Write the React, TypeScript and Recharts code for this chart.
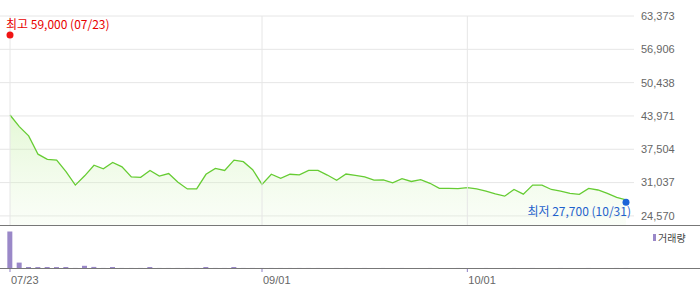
import React from 'react';
import { ComposedChart, Area, Bar, XAxis, YAxis, CartesianGrid, ReferenceLine, ReferenceDot } from 'recharts';

const dates = [
  '07/23', '07/24', '07/25', '07/26', '07/27', '07/30', '07/31',
  '08/01', '08/02', '08/03', '08/06', '08/07', '08/08', '08/09', '08/10', '08/13', '08/14',
  '08/16', '08/17', '08/20', '08/21', '08/22', '08/23', '08/24', '08/27', '08/28', '08/29',
  '09/01', '09/02', '09/03', '09/04', '09/07', '09/08', '09/09', '09/10', '09/11', '09/14', '09/15',
  '09/16', '09/17', '09/18', '09/21', '09/22', '09/23', '09/24', '09/25', '09/28', '09/29', '09/30',
  '10/01', '10/05', '10/06', '10/07', '10/08', '10/12', '10/13', '10/14', '10/15', '10/16', '10/19',
  '10/20', '10/21', '10/22', '10/23', '10/26', '10/27', '10/31',
];

const closes = [
  44150, 41900, 40100, 36550, 35550, 35400, 33150, 30550, 32350, 34400,
  33700, 34950, 34100, 32150, 32050, 33400, 32300, 32800, 31100, 29800,
  29800, 32650, 33800, 33400, 35400, 35100, 33550, 30700, 32650, 31850,
  32650, 32550, 33400, 33400, 32500, 31500, 32700, 32450, 32150, 31500,
  31550, 31000, 31800, 31250, 31600, 30900, 29900, 29900, 29850, 30050,
  29800, 29400, 28850, 28400, 29700, 28800, 30550, 30550, 29700, 29400,
  28950, 28750, 29900, 29600, 28950, 28150, 27700,
];

const volumes = [
  3650000, 540000, 100000, 95000, 100000, 95000, 100000, 8000, 220000, 110000,
  7000, 100000, 6000, 5000, 6000, 100000, 6000, 5000, 6000, 7000,
  6000, 100000, 6000, 5000, 100000, 6000, 5000, 4000, 5000, 4000,
  4000, 5000, 4000, 4000, 3000, 4000, 4000, 3000, 4000, 3000,
  4000, 3000, 4000, 3000, 3000, 4000, 3000, 3000, 4000, 3000,
  3000, 4000, 3000, 3000, 4000, 3000, 4000, 3000, 3000, 4000,
  3000, 3000, 4000, 3000, 3000, 4000, 5000,
];

const priceTicks = [24570, 31037, 37504, 43971, 50438, 56906, 63373];
const priceDomain = [22610, 63373];
const volumeDomain = [0, 4200000];
const xTickLabels = ['07/23', '09/01', '10/01'];
const high = { value: 59000, date: '07/23' };
const low = { value: 27700, date: '10/31' };

const data = dates.map((d, i) => ({ i, date: d, close: closes[i], volume: volumes[i] }));
const xTicks = xTickLabels.map((l) => dates.indexOf(l));
const fmt = (v: number) => v.toLocaleString('en-US');

const X_PAD = { left: 10, right: 8 };
const NUM_FONT = '"Liberation Sans", Arial, sans-serif';
const KR_FONT = '"Noto Sans CJK KR", "Noto Sans", sans-serif';

const HighMark = (p: any) => (
  <g>
    <circle cx={p.cx} cy={p.cy - 3.5} r={3.5} fill="#f01414" />
    <text x={p.cx - 4} y={p.cy - 9.5} fill="#e80000" fontSize={12} fontFamily={KR_FONT}>
      {`최고 ${fmt(high.value)} (${high.date})`}
    </text>
  </g>
);

const LowMark = (p: any) => (
  <g>
    <circle cx={p.cx} cy={p.cy + 2.5} r={3.5} fill="#1c64d8" />
    <text x={p.cx + 5} y={p.cy + 16} fill="#1f62cc" fontSize={12} fontFamily={KR_FONT} textAnchor="end">
      {`최저 ${fmt(low.value)} (${low.date})`}
    </text>
  </g>
);

const XTick = (p: any) => (
  <text x={p.x + 1} y={p.y + 10} fill="#666" fontSize={11} fontFamily={NUM_FONT} textAnchor="start">
    {dates[p.payload.value]}
  </text>
);

export default function App() {
  const n = data.length;
  return (
    <div style={{ position: 'absolute', left: 0, top: 0, width: 700, height: 289, background: '#fff', overflow: 'hidden' }}>
      <div style={{ position: 'absolute', left: 0, top: 0 }}>
        <ComposedChart width={700} height={226} data={data} margin={{ top: 16, right: 0, bottom: 0, left: 0 }}>
          <defs>
            <linearGradient id="priceFill" x1="0" y1="0" x2="0" y2="1">
              <stop offset="0%" stopColor="#b4ea8c" stopOpacity={0.6} />
              <stop offset="100%" stopColor="#e8f9dc" stopOpacity={0.35} />
            </linearGradient>
          </defs>
          <CartesianGrid vertical={false} stroke="#e6e6e6" />
          <XAxis type="number" dataKey="i" domain={[0, n - 1]} padding={X_PAD} hide ticks={xTicks} />
          <YAxis
            orientation="right"
            domain={priceDomain}
            ticks={priceTicks}
            width={66}
            interval={0}
            axisLine={false}
            tickLine={false}
            tickSize={0}
            tickMargin={7}
            allowDataOverflow
            tick={{ fill: '#666', fontSize: 11, fontFamily: NUM_FONT }}
            tickFormatter={fmt}
          />
          {xTicks.map((t) => (
            <ReferenceLine key={t} x={t} stroke="#e6e6e6" />
          ))}
          <Area
            type="linear"
            dataKey="close"
            stroke="#66cc33"
            strokeWidth={1.3}
            fill="url(#priceFill)"
            dot={false}
            activeDot={false}
            isAnimationActive={false}
          />
          <ReferenceDot x={dates.indexOf(high.date)} y={high.value} r={3.5} shape={HighMark} />
          <ReferenceDot x={dates.indexOf(low.date)} y={low.value} r={3.5} shape={LowMark} />
        </ComposedChart>
      </div>
      <div style={{ position: 'absolute', left: 0, top: 226 }}>
        <ComposedChart width={700} height={63} data={data} margin={{ top: 0, right: 66, bottom: 0, left: 0 }}>
          <XAxis
            type="number"
            dataKey="i"
            domain={[0, n - 1]}
            padding={X_PAD}
            ticks={xTicks}
            interval={0}
            axisLine={false}
            tickLine={{ stroke: '#8f80c4' }}
            tickSize={4}
            height={21}
            tick={<XTick />}
          />
          <YAxis hide domain={volumeDomain} />
          <Bar dataKey="volume" fill="#9a88c8" barSize={5} isAnimationActive={false} />
        </ComposedChart>
      </div>
      <div style={{ position: 'absolute', left: 0, top: 225, width: 700, height: 1, background: '#777' }} />
      <div style={{ position: 'absolute', left: 0, top: 268, width: 700, height: 1, background: '#777' }} />
      <div style={{ position: 'absolute', left: 653, top: 231, display: 'flex', alignItems: 'center', fontFamily: KR_FONT, fontSize: 10, color: '#444', lineHeight: '13px' }}>
        <span style={{ display: 'inline-block', width: 3, height: 7, background: '#9a88c8', marginRight: 2 }} />
        <span>거래량</span>
      </div>
    </div>
  );
}
